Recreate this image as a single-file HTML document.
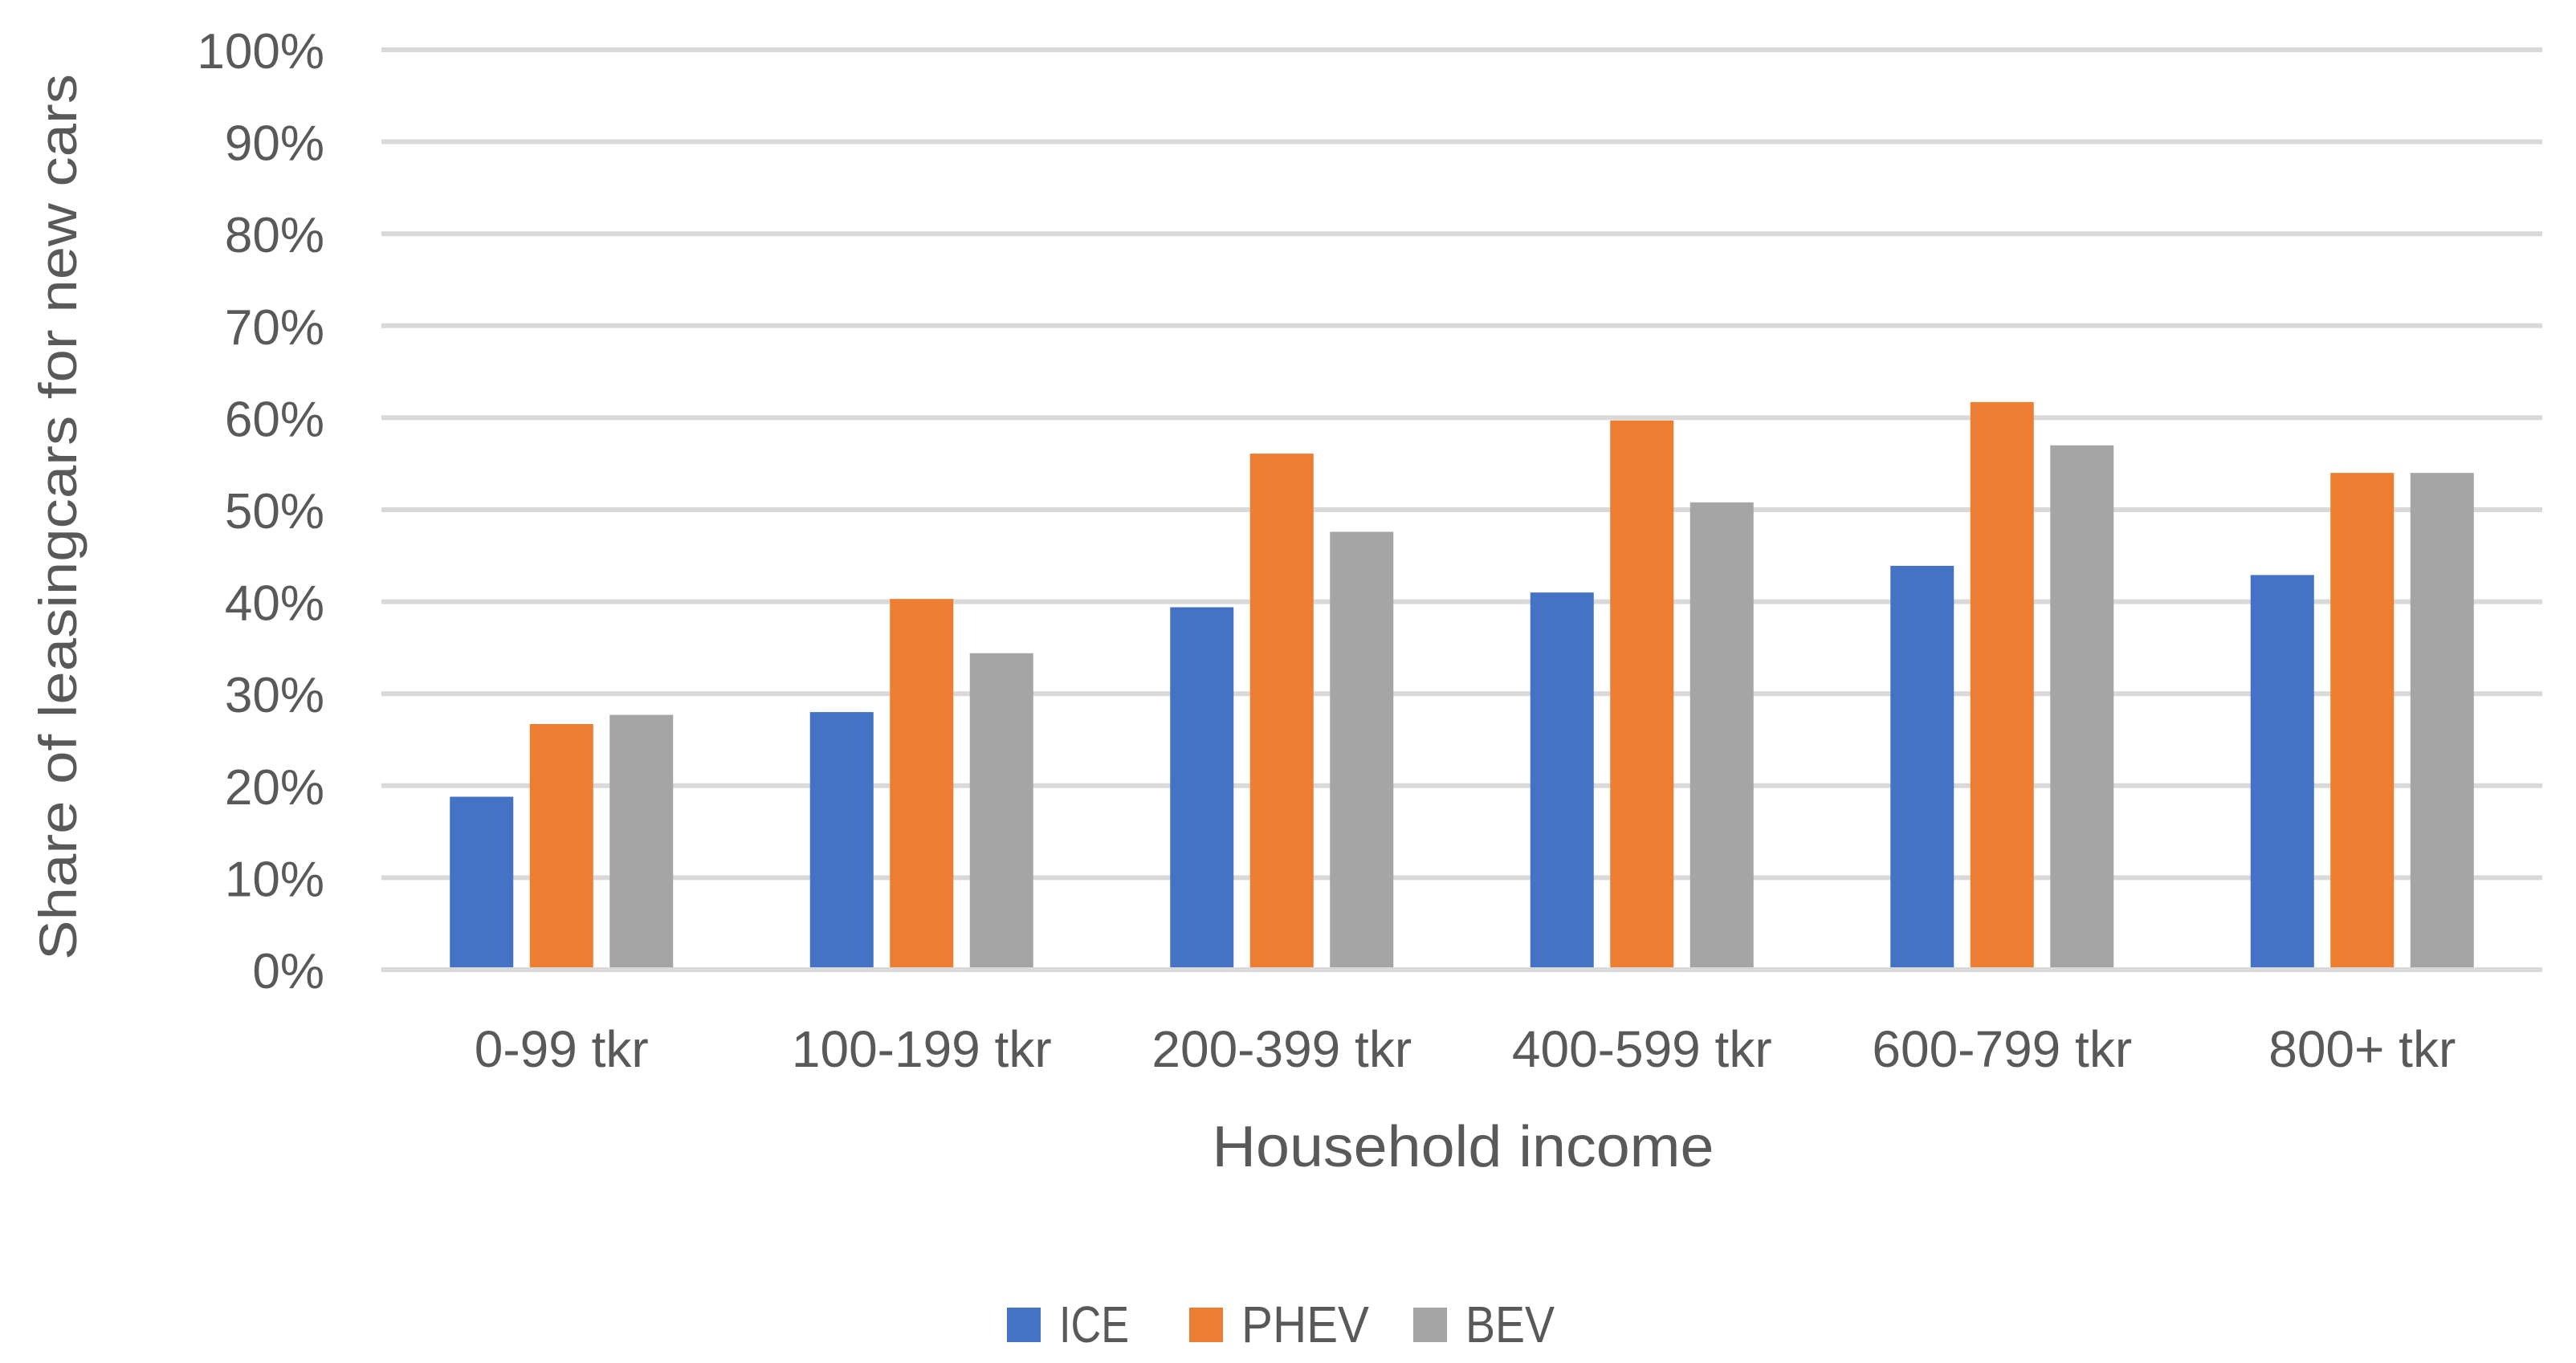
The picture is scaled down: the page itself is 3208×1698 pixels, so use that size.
<!DOCTYPE html>
<html><head><meta charset="utf-8"><style>
html,body{margin:0;padding:0;background:#fff;}
svg{display:block;}
text{font-family:"Liberation Sans",sans-serif;fill:#595959;}
</style></head><body>
<svg id="chart" width="3208" height="1698" viewBox="0 0 3208 1698" xmlns="http://www.w3.org/2000/svg">
<g id="grid"></g>
<g id="yticks"></g>
<g id="bars"></g>
<g id="xticks"></g>
<text transform="translate(95,644) rotate(-90)" text-anchor="middle" font-size="66" textLength="1104" lengthAdjust="spacingAndGlyphs">Share of leasingcars for new cars</text>
<text x="1822" y="1453" text-anchor="middle" font-size="72" textLength="625" lengthAdjust="spacingAndGlyphs">Household income</text>
<g>
<g><rect x="1254" y="1629" width="42" height="43" fill="#4472C4"/><text x="1319" y="1672" font-size="64" textLength="87" lengthAdjust="spacingAndGlyphs">ICE</text></g>
<g><rect x="1481" y="1629" width="42" height="43" fill="#ED7D31"/><text x="1546" y="1672" font-size="64" textLength="159" lengthAdjust="spacingAndGlyphs">PHEV</text></g>
<g><rect x="1760" y="1629" width="42" height="43" fill="#A5A5A5"/><text x="1825" y="1672" font-size="64" textLength="111" lengthAdjust="spacingAndGlyphs">BEV</text></g>
</g>
</svg>
<script>
const categories = ["0-99 tkr","100-199 tkr","200-399 tkr","400-599 tkr","600-799 tkr","800+ tkr"];
const seriesNames = ["ICE","PHEV","BEV"];
const iceValues = [18.8, 28.0, 39.4, 41.0, 43.9, 42.9];
const phevValues = [26.7, 40.3, 56.1, 59.7, 61.7, 54.0];
const bevValues = [27.7, 34.4, 47.6, 50.8, 57.0, 54.0];
const tickValues = [0,10,20,30,40,50,60,70,80,90,100];
const tickLabels = ["0%","10%","20%","30%","40%","50%","60%","70%","80%","90%","100%"];

const NS = "http://www.w3.org/2000/svg";
const plotL = 475, plotR = 3166, plotTop = 62, plotBot = 1208;
const colors = ["#4472C4","#ED7D31","#A5A5A5"];
const series = [iceValues, phevValues, bevValues];
const bandW = (plotR - plotL) / categories.length;
const barW = 79, barStep = 99.5;
function y(v){ return plotBot - (v/100)*(plotBot-plotTop); }
function xc(i){ return plotL + bandW*(i+0.5); }

const grid = document.getElementById('grid');
const yt = document.getElementById('yticks');
tickValues.forEach((t,k)=>{
  const l = document.createElementNS(NS,'line');
  
  
  l.setAttribute('x1',plotL); l.setAttribute('x2',plotR);
  l.setAttribute('y1',y(t)); l.setAttribute('y2',y(t));
  l.setAttribute('stroke','#D9D9D9'); l.setAttribute('stroke-width','6');
  grid.appendChild(l);
  const tx = document.createElementNS(NS,'text');
  
  
  tx.setAttribute('x',404); tx.setAttribute('y',y(t)+23);
  tx.setAttribute('text-anchor','end'); tx.setAttribute('font-size','62');
  tx.textContent = tickLabels[k];
  yt.appendChild(tx);
});

const bars = document.getElementById('bars');
series.forEach((vals,s)=>{
  vals.forEach((v,i)=>{
    const r = document.createElementNS(NS,'rect');
    
    
    const cx = xc(i) + (s-1)*barStep;
    r.setAttribute('x', cx - barW/2);
    r.setAttribute('y', y(v));
    r.setAttribute('width', barW);
    r.setAttribute('height', plotBot - 3 - y(v));
    r.setAttribute('fill', colors[s]);
    bars.appendChild(r);
  });
});

const xt = document.getElementById('xticks');
categories.forEach((c,i)=>{
  const tx = document.createElementNS(NS,'text');
  
  
  tx.setAttribute('x', xc(i)); tx.setAttribute('y', 1329);
  tx.setAttribute('text-anchor','middle'); tx.setAttribute('font-size','64');
  tx.textContent = c;
  xt.appendChild(tx);
});
</script>
</body></html>
